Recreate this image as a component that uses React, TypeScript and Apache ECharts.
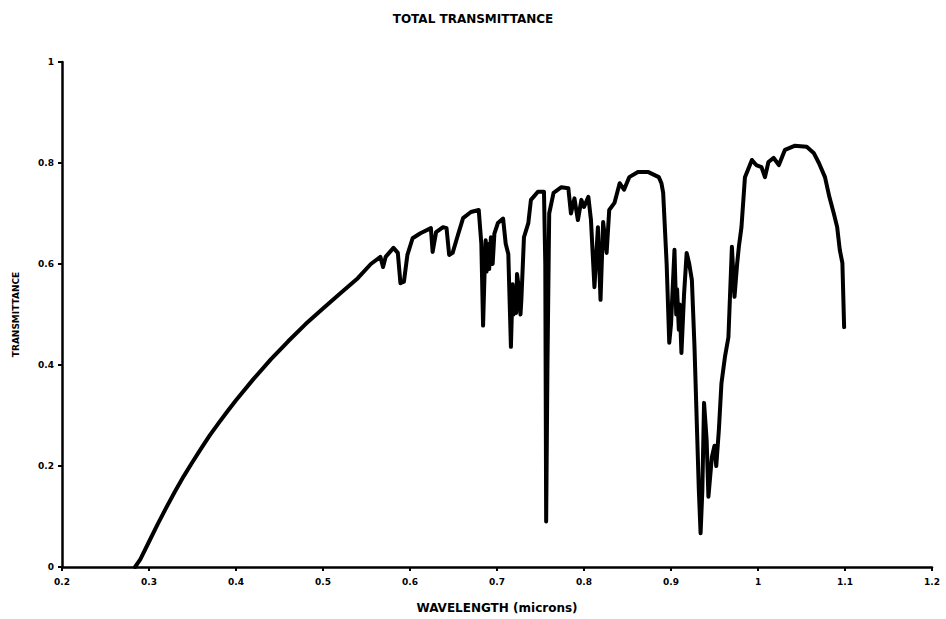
import React, { useEffect, useRef } from "react";
import * as echarts from "echarts";

// Wavelength samples (microns) and the total transmittance at each one.
const wavelength: number[] = [
  0.284, 0.29, 0.3, 0.31, 0.32, 0.33, 0.34, 0.35, 0.36, 0.37, 0.38, 0.39, 0.4,
  0.42, 0.44, 0.46, 0.48, 0.5, 0.52, 0.54, 0.555, 0.566,
  0.569, 0.572, 0.581, 0.586, 0.589, 0.593, 0.597, 0.603, 0.612, 0.624, 0.626,
  0.63, 0.638, 0.642, 0.645, 0.649, 0.655, 0.661, 0.67, 0.679, 0.682, 0.684,
  0.686, 0.687, 0.688, 0.689, 0.691, 0.693, 0.695, 0.697, 0.701, 0.707, 0.71,
  0.713, 0.716, 0.718, 0.719, 0.72, 0.722, 0.723, 0.725, 0.727, 0.728, 0.731,
  0.736, 0.739, 0.743, 0.747, 0.754, 0.7555,
  0.7565, 0.758, 0.76, 0.765, 0.774, 0.782, 0.785, 0.789, 0.793, 0.797, 0.8,
  0.805, 0.808, 0.812, 0.816, 0.819, 0.822, 0.826, 0.829, 0.835, 0.841, 0.846,
  0.852, 0.862, 0.874, 0.886, 0.889, 0.891, 0.895, 0.898, 0.9, 0.904, 0.906,
  0.907, 0.909, 0.91, 0.912, 0.915, 0.918, 0.921, 0.924, 0.927, 0.932, 0.934,
  0.936, 0.938, 0.941, 0.943, 0.947, 0.95, 0.952, 0.955, 0.958, 0.962, 0.966,
  0.97, 0.973, 0.976, 0.978, 0.981, 0.985, 0.993, 0.998, 1.004, 1.008, 1.012,
  1.018, 1.024, 1.031, 1.042, 1.056, 1.064, 1.07, 1.077, 1.082, 1.087, 1.091,
  1.094, 1.097, 1.099,
];

const transmittance: number[] = [
  0, 0.015, 0.05, 0.085, 0.118, 0.15, 0.18, 0.208, 0.235, 0.261, 0.285, 0.308,
  0.33, 0.372, 0.411, 0.447, 0.481, 0.512, 0.542, 0.572, 0.6, 0.614,
  0.594, 0.614, 0.632, 0.622, 0.562, 0.565, 0.618, 0.651, 0.661, 0.671, 0.624,
  0.663, 0.673, 0.671, 0.618, 0.622, 0.657, 0.691, 0.703, 0.707, 0.64, 0.478,
  0.6, 0.647, 0.585, 0.64, 0.59, 0.653, 0.6, 0.66, 0.681, 0.69, 0.64,
  0.62, 0.436, 0.56, 0.5, 0.53, 0.503, 0.58, 0.554, 0.5, 0.529, 0.653,
  0.681, 0.727, 0.735, 0.743, 0.743, 0.6,
  0.09, 0.4, 0.7, 0.741, 0.752, 0.75, 0.7, 0.73, 0.687, 0.727, 0.713,
  0.733, 0.687, 0.554, 0.673, 0.529, 0.683, 0.622, 0.707, 0.721, 0.76, 0.747,
  0.772, 0.782, 0.782, 0.772, 0.76, 0.741, 0.6, 0.444, 0.48, 0.628, 0.5,
  0.55, 0.47, 0.52, 0.424, 0.54, 0.622, 0.6, 0.568, 0.436, 0.152, 0.067,
  0.15, 0.325, 0.25, 0.139, 0.218, 0.24, 0.2, 0.271, 0.364, 0.416, 0.455,
  0.634, 0.535, 0.6, 0.634, 0.673, 0.772, 0.806, 0.796, 0.792, 0.772, 0.802,
  0.81, 0.796, 0.826, 0.834, 0.832, 0.82, 0.8, 0.772, 0.733, 0.701, 0.673,
  0.628, 0.602, 0.475,
];

const xTicks = { min: 0.2, max: 1.2, interval: 0.1 };
const yTicks = { min: 0, max: 1, interval: 0.2 };

const FONT = "DejaVu Sans, Liberation Sans, sans-serif";

const tickLabel = (v: number) => String(Math.round(v * 10) / 10);

export default function App() {
  const ref = useRef<HTMLDivElement>(null);

  useEffect(() => {
    if (!ref.current) return;
    const chart = echarts.init(ref.current, undefined, { renderer: "svg" });
    const points = wavelength.map((w, i) => [w, transmittance[i]]);

    chart.setOption({
      animation: false,
      backgroundColor: "#ffffff",
      title: {
        text: "TOTAL TRANSMITTANCE",
        left: "center",
        top: 8,
        textStyle: { fontFamily: FONT, fontSize: 12, fontWeight: "bold", color: "#000" },
      },
      grid: { left: 62, right: 14, top: 62, bottom: 52, containLabel: false },
      xAxis: {
        type: "value",
        min: xTicks.min,
        max: xTicks.max,
        interval: xTicks.interval,
        name: "WAVELENGTH (microns)",
        nameLocation: "middle",
        nameGap: 35,
        nameTextStyle: { fontFamily: FONT, fontSize: 12, fontWeight: "bold", color: "#000" },
        axisLine: { show: true, onZero: false, lineStyle: { color: "#000", width: 2.5 } },
        axisTick: { show: true, length: 4, lineStyle: { color: "#000", width: 2 } },
        axisLabel: {
          margin: 10,
          fontFamily: FONT,
          fontSize: 9,
          fontWeight: "bold",
          color: "#000",
          formatter: tickLabel,
        },
        splitLine: { show: false },
      },
      yAxis: {
        type: "value",
        min: yTicks.min,
        max: yTicks.max,
        interval: yTicks.interval,
        name: "TRANSMITTANCE",
        nameLocation: "middle",
        nameGap: 42,
        nameTextStyle: { fontFamily: FONT, fontSize: 9, fontWeight: "bold", color: "#000" },
        axisLine: { show: true, lineStyle: { color: "#000", width: 2.5 } },
        axisTick: { show: true, length: 4, lineStyle: { color: "#000", width: 2 } },
        axisLabel: {
          margin: 8,
          fontFamily: FONT,
          fontSize: 9,
          fontWeight: "bold",
          color: "#000",
          formatter: tickLabel,
        },
        splitLine: { show: false },
      },
      series: [
        {
          type: "line",
          data: points,
          showSymbol: false,
          smooth: false,
          lineStyle: { color: "#000", width: 4, join: "round", cap: "round" },
        },
      ],
    });

    return () => chart.dispose();
  }, []);

  return (
    <div
      ref={ref}
      style={{ position: "fixed", left: 0, top: 0, width: 946, height: 619 }}
    />
  );
}
